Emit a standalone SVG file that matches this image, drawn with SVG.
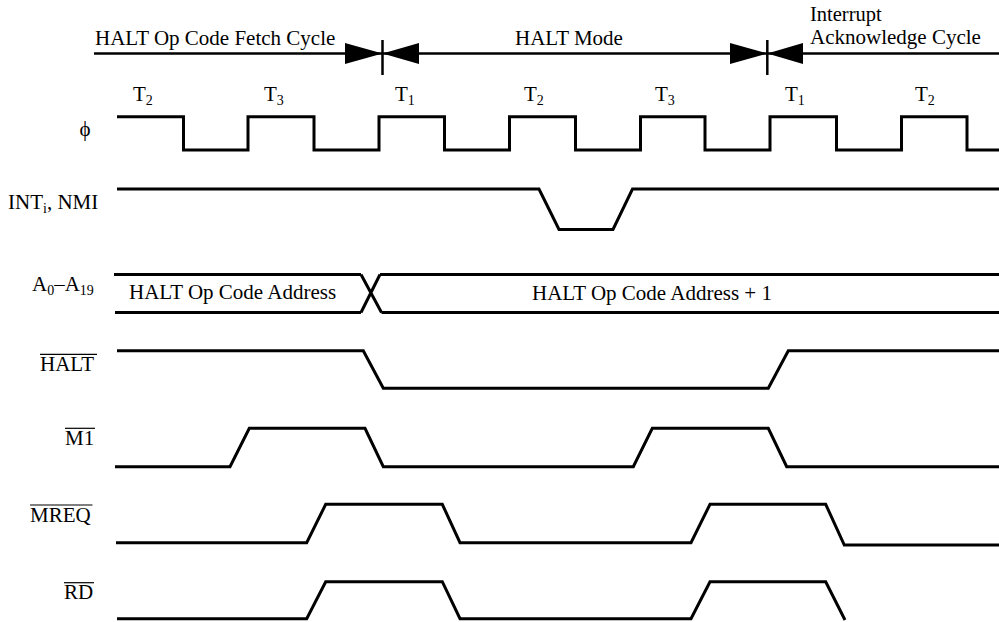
<svg xmlns="http://www.w3.org/2000/svg" width="999" height="622" viewBox="0 0 999 622">
<style>
.sub{font-size:14px}
.sig{fill:none;stroke:#000;stroke-width:3;stroke-linejoin:miter}
.ov{stroke:#000;stroke-width:1.2}
.conn{fill:none;stroke:#000;stroke-width:2.7}
.tick{stroke:#000;stroke-width:2.5}
.ah{fill:#000}
</style>
<rect width="999" height="622" fill="#fff"/>
<g id="connectors">
<line class="conn" x1="94" y1="53.5" x2="999" y2="53.5"/>
<line class="tick" x1="382.5" y1="40" x2="382.5" y2="75"/>
<line class="tick" x1="767.3" y1="40" x2="767.3" y2="75"/>
<polygon class="ah" points="345,43 382.5,53.5 345,64"/>
<polygon class="ah" points="419,43 382.5,53.5 419,64"/>
<polygon class="ah" points="730,43 767.3,53.5 730,64"/>
<polygon class="ah" points="803,43 767.3,53.5 803,64"/>
</g>
<g font-family="Liberation Serif, Times New Roman, serif" font-size="21" fill="#000">
<g id="cycle-labels">
<text x="95" y="45">HALT Op Code Fetch Cycle</text>
<text x="515" y="45">HALT Mode</text>
<text x="810" y="20.5" font-size="20.5">Interrupt</text>
<text x="810" y="44">Acknowledge Cycle</text>
</g>
<g id="t-states">
<text x="133" y="101">T<tspan class="sub" dy="4">2</tspan></text>
<text x="264" y="101">T<tspan class="sub" dy="4">3</tspan></text>
<text x="395" y="101">T<tspan class="sub" dy="4">1</tspan></text>
<text x="524" y="101">T<tspan class="sub" dy="4">2</tspan></text>
<text x="655" y="101">T<tspan class="sub" dy="4">3</tspan></text>
<text x="785" y="101">T<tspan class="sub" dy="4">1</tspan></text>
<text x="915" y="101">T<tspan class="sub" dy="4">2</tspan></text>
</g>
<g id="phi">
<text x="85" y="136" text-anchor="middle">ϕ</text>
<path class="sig" d="M117,116.7 H183.5 V150 H248 V116.7 H314 V150 H379 V116.7 H444.5 V150 H509.5 V116.7 H575.5 V150 H640.5 V116.7 H705 V150 H770 V116.7 H836.5 V150 H901.5 V116.7 H967 V150 H999"/>
</g>
<g id="int-nmi">
<text x="8" y="209">INT<tspan class="sub" dy="4">i</tspan><tspan dy="-4">, NMI</tspan></text>
<path class="sig" d="M117,189 H539 L559,229.5 H613 L632.5,189 H999"/>
</g>
<g id="address">
<text x="32" y="290.5">A<tspan class="sub" dy="4">0</tspan><tspan dy="-4">–A</tspan><tspan class="sub" dy="4">19</tspan></text>
<path class="sig" d="M114,274.5 H361 M115,312.5 H361 M361,274.5 L381.5,312.5 M361,312.5 L380,274.5 M380,274.5 H999 M381.5,312.5 H999"/>
<text x="129" y="299.3">HALT Op Code Address</text>
<text x="532" y="300">HALT Op Code Address + 1</text>
</g>
<g id="halt">
<text x="40" y="371">HALT</text>
<line class="ov" x1="40" y1="354.3" x2="97" y2="354.3"/>
<path class="sig" d="M117,350.7 H363.3 L383.3,388.3 H768.3 L788.3,350.7 H999"/>
</g>
<g id="m1">
<text x="65" y="445">M1</text>
<line class="ov" x1="65" y1="428.3" x2="95" y2="428.3"/>
<path class="sig" d="M115,466.7 H230 L249.3,428.3 H365 L383.3,466.7 H633.3 L652.3,428.3 H768.3 L786.7,466.7 H999"/>
</g>
<g id="mreq">
<text x="30" y="521.7">MREQ</text>
<line class="ov" x1="30" y1="505" x2="92.5" y2="505"/>
<path class="sig" d="M116,542.7 H306.7 L325.7,504.3 H442.3 L460,542.7 H691 L710,504.3 H825.7 L844.3,545 H999"/>
</g>
<g id="rd">
<text x="64" y="599">RD</text>
<line class="ov" x1="64" y1="582.7" x2="94" y2="582.7"/>
<path class="sig" d="M117,618.7 H306.7 L325.7,581.7 H442.3 L460,618.7 H691 L710,581.7 H825.7 L845,620"/>
</g>
</g>
</svg>
